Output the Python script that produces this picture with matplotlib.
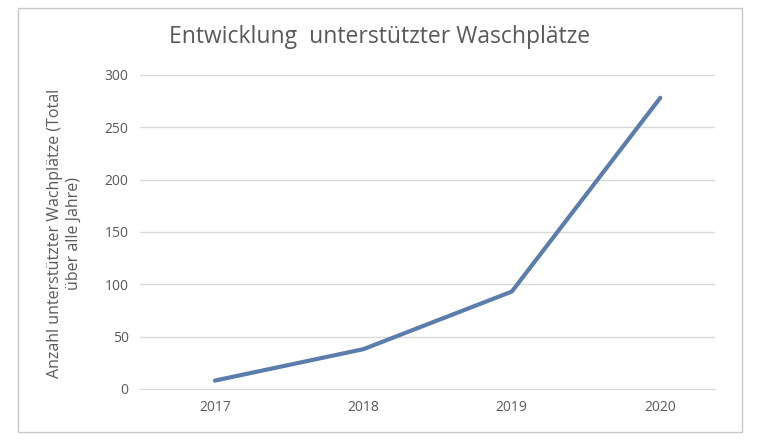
import matplotlib.pyplot as plt
from matplotlib.patches import Rectangle

years = ["2017", "2018", "2019", "2020"]
washplaces = [8, 38, 93, 278]
y_ticks = [0, 50, 100, 150, 200, 250, 300]

plt.rcParams["font.family"] = "Open Sans"

fig = plt.figure(figsize=(7.6, 4.4), dpi=100)
fig.patches.append(Rectangle((18 / 760, 8 / 440), 724 / 760, 424 / 440, transform=fig.transFigure,
                             fill=False, edgecolor="#c8c8c8", linewidth=1))
ax = fig.add_axes([0.184, 0.116, 0.757, 0.714])

ax.plot(range(len(years)), washplaces, color="#5a7dad", linewidth=3, solid_capstyle="round")
ax.set_xlim(-0.506, 3.37)
ax.set_ylim(0, 300)
ax.set_yticks(y_ticks)
ax.set_xticks(range(len(years)))
ax.set_xticklabels(years)
ax.grid(axis="y", color="#d9d9d9", linewidth=1)
ax.set_axisbelow(True)
for s in ["top", "right", "left"]:
    ax.spines[s].set_visible(False)
ax.spines["bottom"].set_color("#d9d9d9")
ax.tick_params(length=0, labelsize=10, colors="#595959", pad=8)

fig.text(0.5, 0.915, "Entwicklung  unterstützter Waschplätze", ha="center", va="center",
         fontsize=16.5, color="#595959")
fig.text(0.085, 0.47, "Anzahl unterstützter Wachplätze (Total\nüber alle Jahre)", rotation=90,
         ha="center", va="center", fontsize=11.5, color="#595959", linespacing=1.2)

fig.savefig("out.png")
